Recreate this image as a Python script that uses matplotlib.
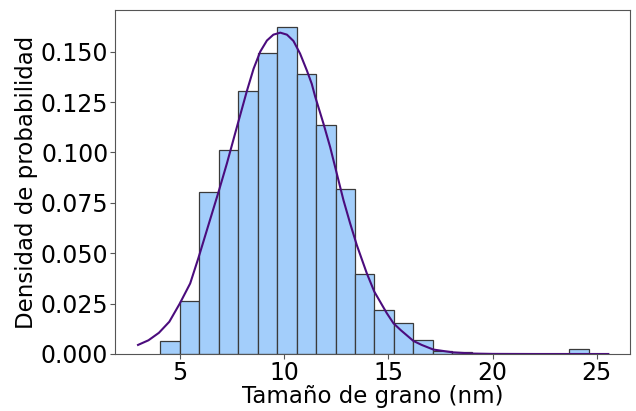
import numpy as np
import matplotlib
matplotlib.use('Agg')
import matplotlib.pyplot as plt

# histogram bins (nm) and density heights
bin_edges = [4.07, 5.00, 5.94, 6.87, 7.80, 8.74, 9.67, 10.60, 11.53, 12.47, 13.40,
             14.33, 15.27, 16.20, 17.13, 18.06, 19.00, 19.93, 20.86, 21.80, 22.73,
             23.66, 24.60]
densities = [0.0066, 0.0261, 0.0806, 0.1011, 0.1303, 0.1495, 0.1624, 0.1388,
             0.1138, 0.0818, 0.0398, 0.0217, 0.0152, 0.0069, 0.0015, 0.0011,
             0.0, 0.0, 0.0, 0.0, 0.0, 0.0023]

# fitted curve
curve_x = [3.0, 3.5, 4.0, 4.5, 5.0, 5.5, 5.9, 6.3, 6.86, 7.26, 7.74, 8.22, 8.54,
           8.86, 9.18, 9.49, 9.82, 10.14, 10.45, 10.77, 11.10, 11.33, 11.49, 11.89,
           12.21, 12.53, 12.85, 13.17, 13.49, 13.97, 14.33, 14.93, 15.25, 15.6,
           16.2, 16.6, 17.16, 18.1, 19.1, 20.0, 22.0, 25.55]
curve_y = [0.0045, 0.0068, 0.0105, 0.016, 0.025, 0.035, 0.0478, 0.0614, 0.0804,
           0.0945, 0.1126, 0.1305, 0.1415, 0.150, 0.1555, 0.1584, 0.1594, 0.1584,
           0.1553, 0.149, 0.1405, 0.134, 0.1278, 0.1143, 0.1027, 0.0895, 0.0763,
           0.0648, 0.054, 0.040, 0.0309, 0.0202, 0.0152, 0.0118, 0.0065, 0.0045,
           0.0022, 0.0008, 0.0002, 0.00005, 0.0, 0.0]

fig = plt.figure(figsize=(6.36, 4.11), dpi=100)
ax = fig.add_axes([0.1813, 0.1387, 0.8093, 0.8363])

ax.hist(bin_edges[:-1], bins=bin_edges, weights=densities, color='#a3cefb',
        edgecolor='#3a3a3a', linewidth=0.9)
ax.plot(curve_x, curve_y, color='#4b0c7d', linewidth=1.5)

ax.set_xlim(1.91, 26.59)
ax.set_ylim(0, 0.1705)
ax.set_xticks([5, 10, 15, 20, 25])
ax.set_yticks([0.0, 0.025, 0.05, 0.075, 0.1, 0.125, 0.15])
ax.set_yticklabels(['0.000', '0.025', '0.050', '0.075', '0.100', '0.125', '0.150'])
ax.tick_params(labelsize=17, color='#555555', length=3.5, pad=1.5)
for s in ax.spines.values():
    s.set_color('#555555')

ax.set_xlabel('Tamaño de grano (nm)', fontsize=16.5, labelpad=0)
ax.set_ylabel('Densidad de probabilidad', fontsize=16.5, labelpad=2)

fig.savefig('out.png', dpi=100)
